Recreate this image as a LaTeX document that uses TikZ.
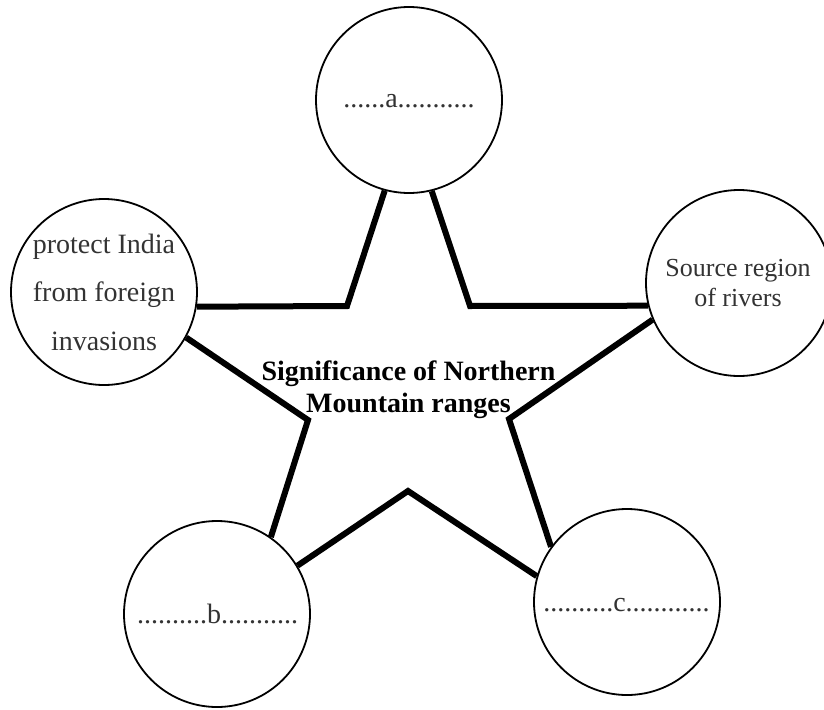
\documentclass[tikz,border=0pt]{standalone}
\usepackage{fontspec}
\setmainfont{Liberation Serif}
\begin{document}
\begin{tikzpicture}[x=1pt,y=-1pt,
  bubble/.style={circle,draw=black,line width=1.8pt,fill=white,minimum size=186pt,inner sep=0pt},
  intext/.style={align=center,inner sep=0pt,text=black!80},
  spoke/.style={line width=6pt,line join=miter},
  title/.style={align=center,inner sep=0pt,font=\bfseries\fontsize{28}{32}\selectfont}]
\useasboundingbox (0,0) rectangle (824,709);

% outer bubbles
\node[bubble] (ca) at (409,100) {};
\node[bubble] (cl) at (104,292) {};
\node[bubble] (cr) at (739,283) {};
\node[bubble] (cb) at (217,614) {};
\node[bubble] (cc) at (627,602) {};

% inner corners of the star
\coordinate (A) at (347,306);
\coordinate (B) at (470,306);
\coordinate (C) at (509,419);
\coordinate (D) at (408,491);
\coordinate (E) at (308,420);

% star outline joining the bubbles
\draw[spoke] (ca.255.4) -- (A) -- (cl.351.3);
\draw[spoke] (cl.331.8) -- (E) -- (cb.55.5);
\draw[spoke] (cb.31.2) -- (D) -- (cc.164.8);
\draw[spoke] (cc.144.5) -- (C) -- (cr.203.3);
\draw[spoke] (cr.194.3) -- (B) -- (ca.284.6);

% texts
\node[intext,font=\fontsize{28}{34}\selectfont] (ta) at (409,101.5) {......a...........};
\node[intext,font=\fontsize{28}{48.5}\selectfont] (tl) at (104,292) {protect India\\from foreign\\invasions};
\node[intext,font=\fontsize{26}{30}\selectfont] (tr) at (738,283) {Source region\\of rivers};
\node[intext,font=\fontsize{28}{34}\selectfont] (tb) at (217.5,613.5) {..........b...........};
\node[intext,font=\fontsize{28}{34}\selectfont] (tc) at (626.5,605.5) {..........c............};

\node[title] (tt) at (408.5,389.5) {Significance of Northern\\Mountain ranges};
\end{tikzpicture}
\end{document}
